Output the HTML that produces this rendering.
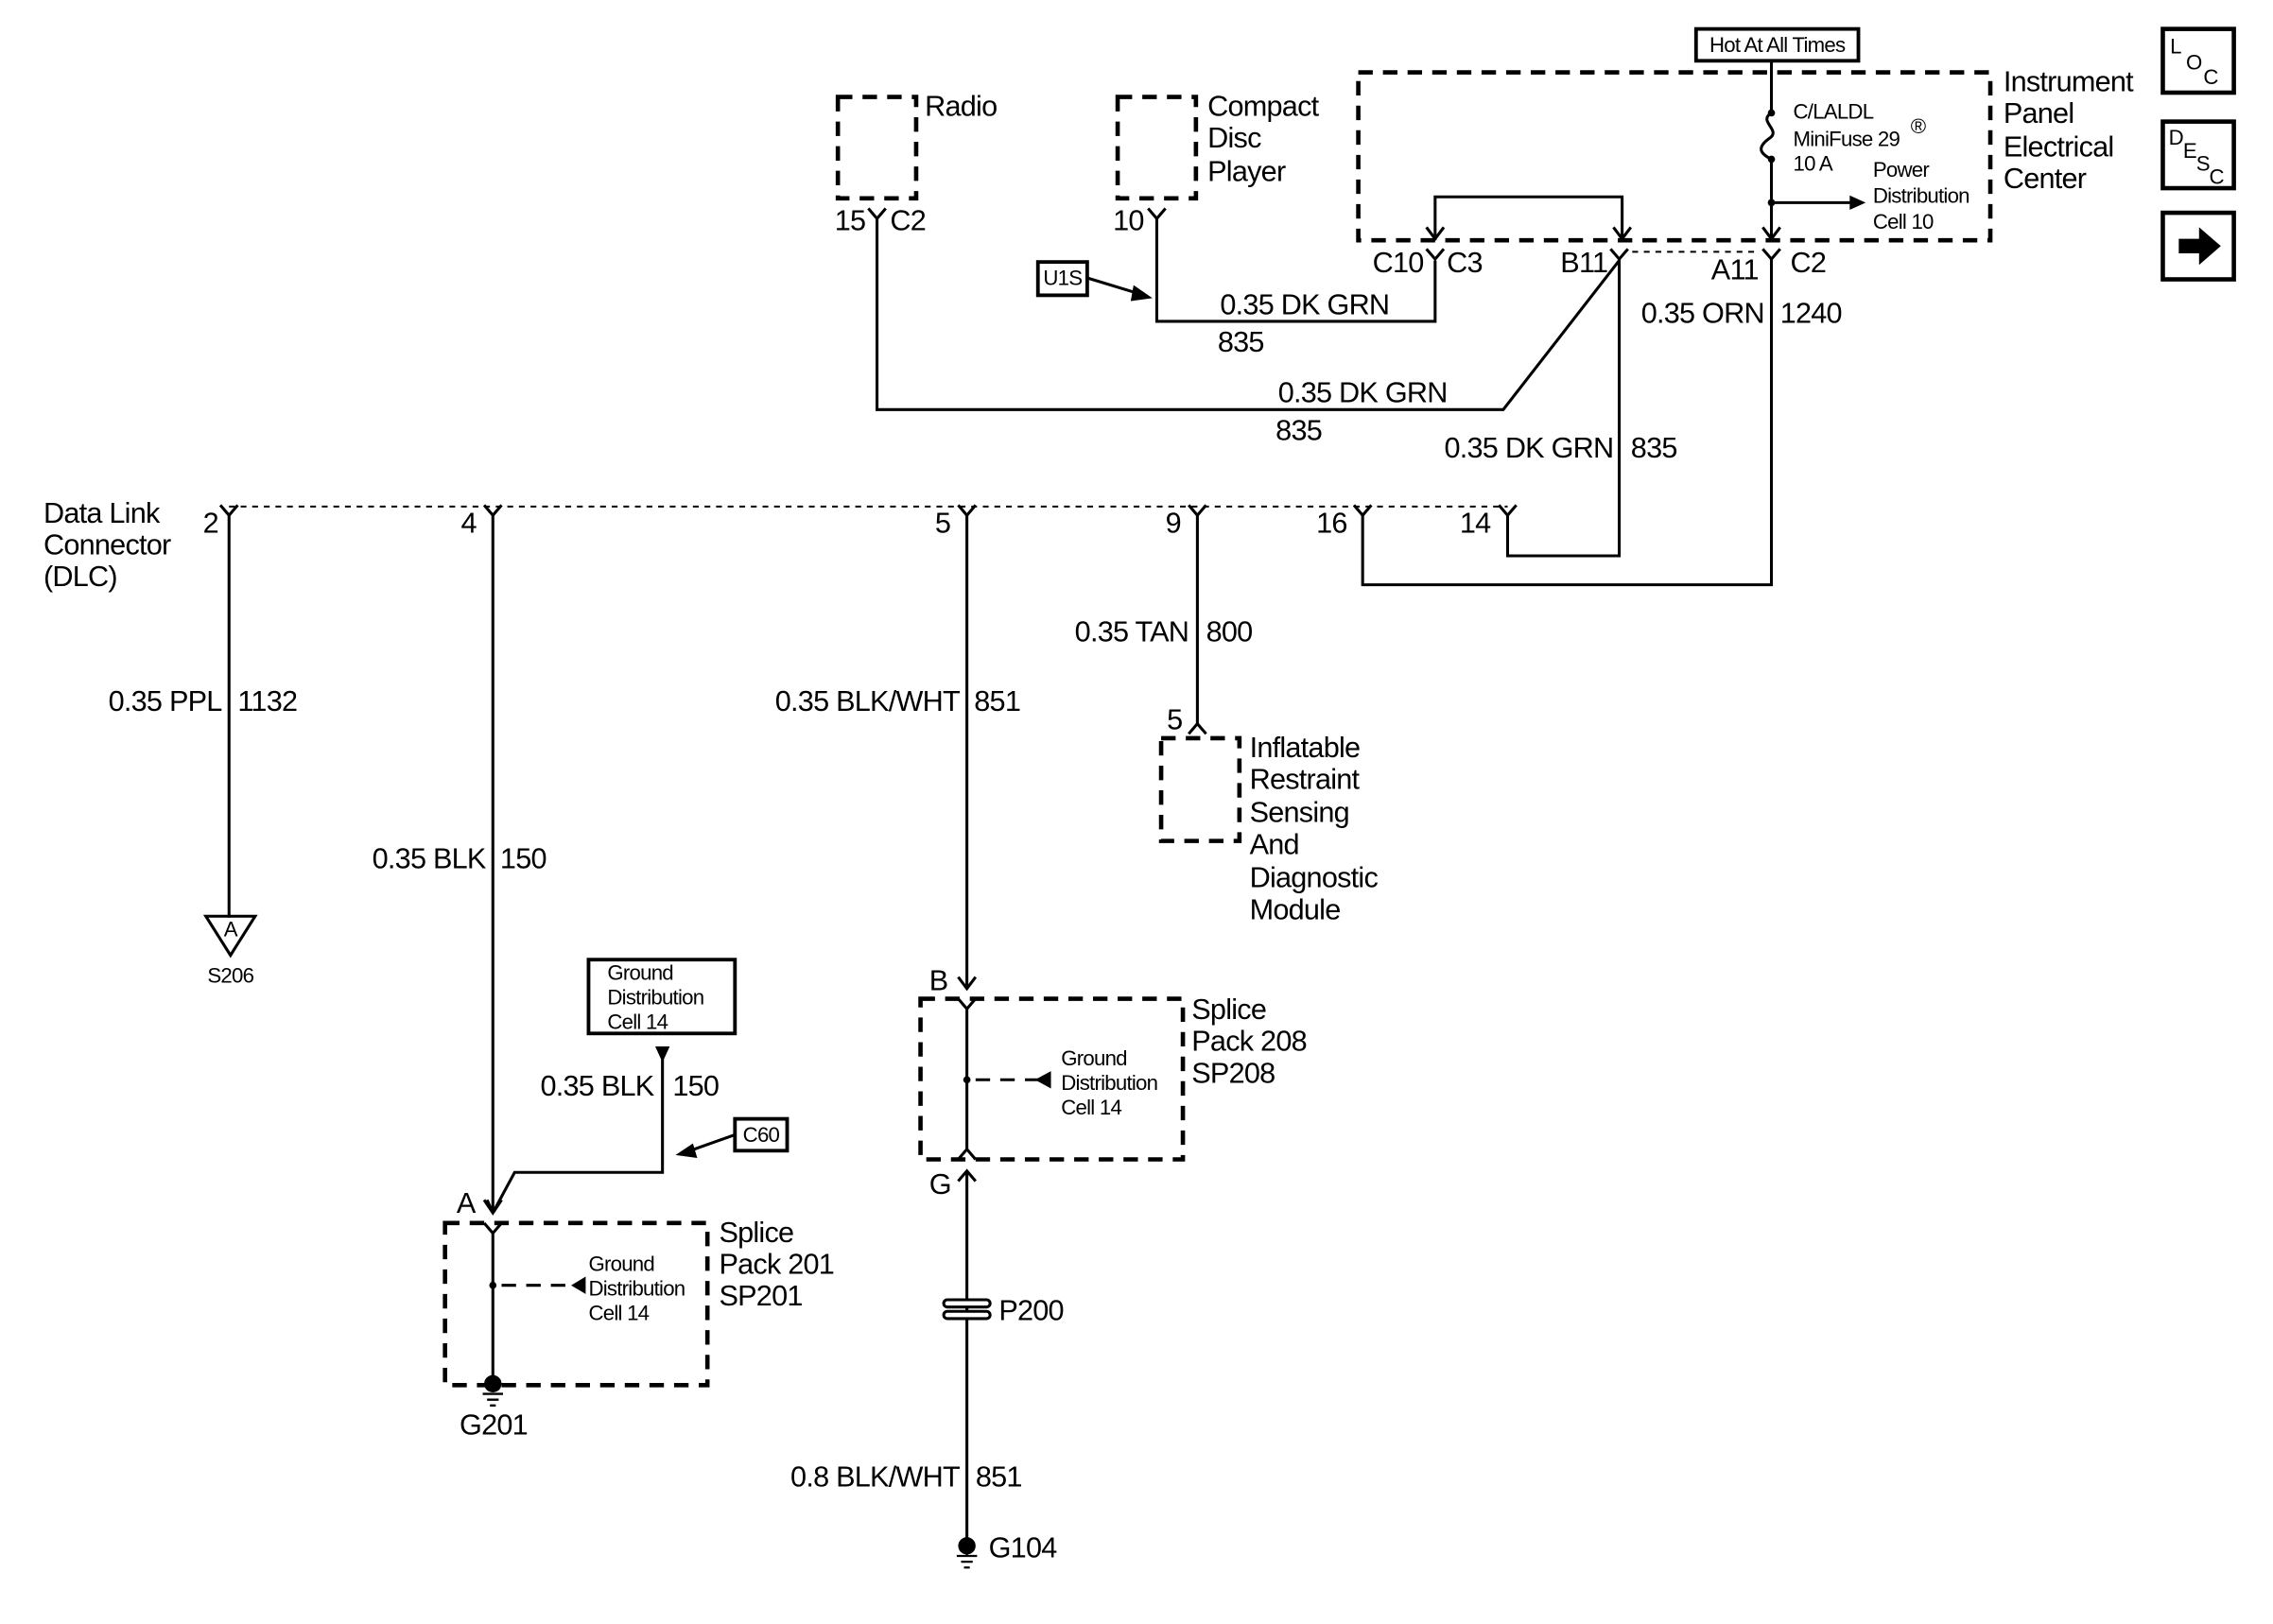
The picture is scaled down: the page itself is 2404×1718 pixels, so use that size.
<!DOCTYPE html>
<html><head><meta charset="utf-8"><style>
html,body{margin:0;padding:0;background:#fff;}
svg{display:block;}
text{font-family:"Liberation Sans",Arial,sans-serif;fill:#000;}
.m{font-size:20px;letter-spacing:-0.5px;}
.s{font-size:14.5px;letter-spacing:-0.5px;}
.w{stroke:#000;stroke-width:2;fill:none;}
.d{stroke:#000;stroke-width:3;fill:none;stroke-dasharray:10,7;}
.t{stroke:#000;stroke-width:1.3;fill:none;stroke-dasharray:4,4;}
.b{stroke:#000;stroke-width:2.5;fill:#fff;}
</style></head><body>
<svg width="2404" height="1718" viewBox="0 0 1568 1122" preserveAspectRatio="none" xmlns="http://www.w3.org/2000/svg">
<rect width="1568" height="1122" fill="#fff"/>
<!-- Radio -->
<rect x="578" y="67" width="54" height="70" class="d"/>
<text class="m" x="638" y="80">Radio</text>
<text class="m" x="597" y="159" text-anchor="end">15</text>
<text class="m" x="614" y="159">C2</text>
<path class="w" d="M599 144 L605 151 L611 144 M605 151 V283 H1037 L1117 180"/>
<!-- CD -->
<rect x="771" y="67" width="54" height="70" class="d"/>
<text class="m" x="833" y="80">Compact</text>
<text class="m" x="833" y="102">Disc</text>
<text class="m" x="833" y="125">Player</text>
<text class="m" x="789" y="159" text-anchor="end">10</text>
<path class="w" d="M792 144 L798 151 L804 144 M798 151 V222 H990 V180"/>
<rect x="716" y="181" width="34" height="23" class="b"/>
<text class="s" x="733" y="197" text-anchor="middle">U1S</text>
<path class="w" d="M750 192 L786 203"/><path d="M795 206 L782 197 L780 208Z"/>
<text class="m" x="900" y="217" text-anchor="middle">0.35 DK GRN</text>
<text class="m" x="840" y="243">835</text>
<text class="m" x="940" y="278" text-anchor="middle">0.35 DK GRN</text>
<text class="m" x="880" y="304">835</text>
<!-- IPEC -->
<rect x="937" y="50" width="436" height="116" class="d"/>
<text class="m" x="1382" y="63">Instrument</text>
<text class="m" x="1382" y="85">Panel</text>
<text class="m" x="1382" y="108">Electrical</text>
<text class="m" x="1382" y="130">Center</text>
<rect x="1170" y="20" width="112" height="22" class="b"/>
<text class="s" x="1226" y="36" text-anchor="middle">Hot At All Times</text>
<path class="w" d="M1222 42 V78 M1222 110 V166 M1222 78 C1212 84,1230 90,1220 96 C1212 102,1214 106,1222 110"/>
<circle cx="1222" cy="78" r="2.5"/><circle cx="1222" cy="110" r="2.5"/><circle cx="1222" cy="140" r="2.5"/>
<path class="w" d="M1222 140 H1278"/><path d="M1287 140 L1276 135 L1276 145Z"/>
<path class="w" d="M1216 157 L1222 165 L1228 157"/>
<text class="s" x="1237" y="82">C/LALDL</text>
<text class="s" x="1237" y="101">MiniFuse 29</text>
<text class="s" x="1318" y="92">®</text>
<text class="s" x="1237" y="118">10 A</text>
<text class="s" x="1292" y="122">Power</text>
<text class="s" x="1292" y="140">Distribution</text>
<text class="s" x="1292" y="158">Cell 10</text>
<path class="w" d="M990 166 V136 H1119 V166 M984 157 L990 165 L996 157 M1113 157 L1119 165 L1125 157"/>
<text class="m" x="982" y="188" text-anchor="end">C10</text>
<path class="w" d="M984 172 L990 179 L996 172"/>
<text class="m" x="998" y="188">C3</text>
<text class="m" x="1109" y="188" text-anchor="end">B11</text>
<path class="w" d="M1111 172 L1117 179 L1123 172"/>
<path class="t" d="M1126 174 H1212"/>
<text class="m" x="1213" y="193" text-anchor="end">A11</text>
<path class="w" d="M1216 172 L1222 179 L1228 172"/>
<text class="m" x="1235" y="188">C2</text>
<path class="w" d="M1117 179 V384 H1040 V355 M1222 179 V404 H940 V355"/>
<text class="m" x="1217" y="223" text-anchor="end">0.35 ORN</text>
<text class="m" x="1228" y="223">1240</text>
<text class="m" x="1113" y="316" text-anchor="end">0.35 DK GRN</text>
<text class="m" x="1125" y="316">835</text>
<!-- DLC -->
<path class="t" d="M158 350 H1040"/>
<text class="m" x="30" y="361">Data Link</text>
<text class="m" x="30" y="383">Connector</text>
<text class="m" x="30" y="405">(DLC)</text>
<g class="w">
<path d="M152 349 L158 356 L164 349"/><path d="M334 349 L340 356 L346 349"/><path d="M661 349 L667 356 L673 349"/>
<path d="M820 349 L826 356 L832 349"/><path d="M934 349 L940 356 L946 349"/><path d="M1034 349 L1040 356 L1046 349"/>
</g>
<text class="m" x="140" y="368">2</text><text class="m" x="318" y="368">4</text><text class="m" x="645" y="368">5</text>
<text class="m" x="804" y="368">9</text><text class="m" x="908" y="368">16</text><text class="m" x="1007" y="368">14</text>
<path class="w" d="M158 356 V634 M340 356 V838 M667 356 V683 M826 356 V500"/>
<text class="m" x="153" y="491" text-anchor="end">0.35 PPL</text><text class="m" x="164" y="491">1132</text>
<path class="w" d="M142 633 H176 L159 660 Z"/>
<text class="s" x="159" y="647" text-anchor="middle">A</text>
<text class="s" x="159" y="679" text-anchor="middle">S206</text>
<text class="m" x="335" y="600" text-anchor="end">0.35 BLK</text><text class="m" x="345" y="600">150</text>
<text class="m" x="662" y="491" text-anchor="end">0.35 BLK/WHT</text><text class="m" x="672" y="491">851</text>
<text class="m" x="820" y="443" text-anchor="end">0.35 TAN</text><text class="m" x="832" y="443">800</text>
<text class="m" x="805" y="504">5</text>
<path class="w" d="M820 507 L826 500 L832 507"/>
<rect x="801" y="510" width="54" height="71" class="d"/>
<text class="m" x="862" y="523">Inflatable</text><text class="m" x="862" y="545">Restraint</text>
<text class="m" x="862" y="568">Sensing</text><text class="m" x="862" y="590">And</text>
<text class="m" x="862" y="613">Diagnostic</text><text class="m" x="862" y="635">Module</text>
<!-- Ground dist box left -->
<rect x="406" y="663" width="101" height="51" class="b"/>
<text class="s" x="419" y="677">Ground</text><text class="s" x="419" y="694">Distribution</text><text class="s" x="419" y="711">Cell 14</text>
<path d="M452 723 H462 L457 734Z"/>
<path class="w" d="M457 730 V810 H355 L341 836"/>
<text class="m" x="451" y="757" text-anchor="end">0.35 BLK</text><text class="m" x="464" y="757">150</text>
<rect x="507" y="773" width="36" height="22" class="b"/>
<text class="s" x="525" y="789" text-anchor="middle">C60</text>
<path class="w" d="M507 784 L476 795"/><path d="M466 798 L478 790 L481 800Z"/>
<path class="w" d="M334 829 L340 838 L346 829 M336 829 L340 838"/>
<!-- SP201 -->
<text class="m" x="315" y="838">A</text>
<rect x="307" y="845" width="181" height="112" class="d"/>
<path class="w" d="M334 845 L340 852 L346 845 M340 852 V957"/>
<circle cx="340" cy="888" r="2.5"/>
<path class="d" d="M346 888 H396" style="stroke-width:2"/><path d="M394 888 L404 882 L404 894Z"/>
<text class="s" x="406" y="878">Ground</text><text class="s" x="406" y="895">Distribution</text><text class="s" x="406" y="912">Cell 14</text>
<text class="m" x="496" y="858">Splice</text><text class="m" x="496" y="880">Pack  201</text><text class="m" x="496" y="902">SP201</text>
<circle cx="340" cy="956" r="6"/>
<path class="w" d="M333 963 H347 M336 967 H344 M338 971 H342" style="stroke-width:1.5"/>
<text class="m" x="317" y="991">G201</text>
<!-- SP208 -->
<path class="w" d="M661 675 L667 683 L673 675"/>
<text class="m" x="641" y="684">B</text>
<rect x="635" y="690" width="181" height="111" class="d"/>
<path class="w" d="M661 690 L667 697 L673 690 M667 697 V794 M661 801 L667 794 L673 801"/>
<circle cx="667" cy="746" r="2.5"/>
<path class="d" d="M673 746 H716" style="stroke-width:2"/><path d="M714 746 L725 740 L725 752Z"/>
<text class="s" x="732" y="736">Ground</text><text class="s" x="732" y="753">Distribution</text><text class="s" x="732" y="770">Cell 14</text>
<text class="m" x="822" y="704">Splice</text><text class="m" x="822" y="726">Pack 208</text><text class="m" x="822" y="748">SP208</text>
<text class="m" x="641" y="825">G</text>
<path class="w" d="M661 816 L667 809 L673 816 M667 809 V1068"/>
<rect x="651" y="898" width="32" height="5" rx="2.5" fill="#fff" stroke="#000" stroke-width="2"/>
<rect x="651" y="906" width="32" height="5" rx="2.5" fill="#fff" stroke="#000" stroke-width="2"/>
<path class="w" d="M667 903 V906"/>
<text class="m" x="689" y="912">P200</text>
<text class="m" x="662" y="1027" text-anchor="end">0.8 BLK/WHT</text><text class="m" x="673" y="1027">851</text>
<circle cx="667" cy="1068" r="6"/>
<path class="w" d="M667 1068 V1075 M660 1075 H674 M663 1079 H671 M665 1083 H669" style="stroke-width:1.5"/>
<text class="m" x="682" y="1076">G104</text>
<!-- side buttons -->
<rect x="1492" y="20" width="49" height="44" class="b" style="stroke-width:3"/>
<text class="s" x="1497" y="37">L</text><text class="s" x="1508" y="48">O</text><text class="s" x="1520" y="58">C</text>
<rect x="1492" y="84" width="49" height="46" class="b" style="stroke-width:3"/>
<text class="s" x="1496" y="100">D</text><text class="s" x="1506" y="109">E</text><text class="s" x="1515" y="118">S</text><text class="s" x="1524" y="127">C</text>
<rect x="1492" y="147" width="49" height="46" class="b" style="stroke-width:3"/>
<path d="M1503 165 H1517 V157 L1532 170 L1517 183 V175 H1503Z"/>
</svg>
</body></html>
